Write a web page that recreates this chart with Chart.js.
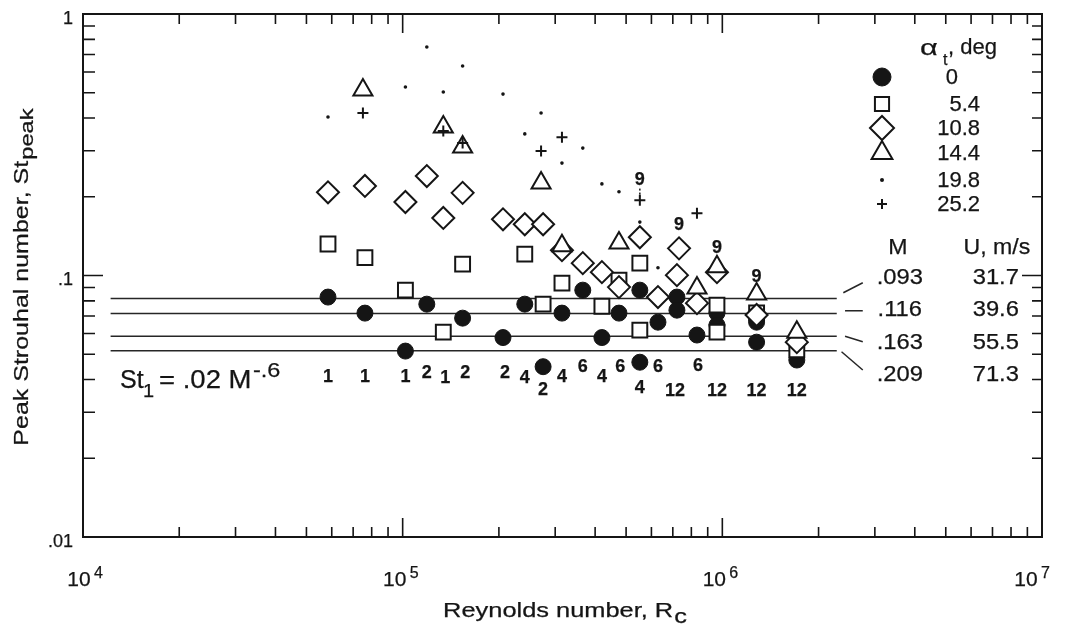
<!DOCTYPE html>
<html>
<head>
<meta charset="utf-8">
<script src="https://cdn.jsdelivr.net/npm/chart.js@4/dist/chart.umd.min.js"></script>
<style>
  html, body { margin: 0; padding: 0; background: #fff; }
  #wrap { width: 1088px; height: 627px; }
</style>
</head>
<body>
<div id="wrap"><canvas id="strouhal-plot"></canvas></div>
<script>
// Values: Reynolds number Rc (x) and peak Strouhal number (y)
const re0 = [5.84e4, 7.62e4, 1.02e5, 1.19e5, 1.54e5, 2.06e5, 2.41e5, 2.75e5, 3.15e5, 3.66e5, 4.20e5, 4.75e5,
             5.52e5, 5.52e5, 6.29e5, 7.21e5, 7.21e5, 8.33e5, 9.62e5, 9.62e5, 1.28e6, 1.28e6, 1.71e6];
const st0 = [0.0827, 0.0718, 0.0514, 0.0777, 0.0687, 0.0579, 0.0777, 0.0448, 0.0718, 0.0879, 0.0579, 0.0718,
             0.0879, 0.0466, 0.0663, 0.0827, 0.0737, 0.0592, 0.0718, 0.0646, 0.0663, 0.0556, 0.0475];

const re5 = [5.84e4, 7.62e4, 1.02e5, 1.34e5, 1.54e5, 2.41e5, 2.75e5, 3.15e5, 4.20e5, 4.75e5, 5.52e5, 5.52e5,
             9.62e5, 9.62e5, 1.28e6, 1.71e6];
const st5 = [0.132, 0.117, 0.0879, 0.0607, 0.1105, 0.1207, 0.0777, 0.0935, 0.0763, 0.096, 0.1115, 0.0618,
             0.077, 0.0607, 0.072, 0.052];

const re10 = [5.84e4, 7.62e4, 1.02e5, 1.19e5, 1.34e5, 1.54e5, 2.06e5, 2.41e5, 2.75e5, 3.15e5, 3.66e5, 4.20e5,
              4.75e5, 5.52e5, 6.29e5, 7.32e5, 7.21e5, 8.33e5, 9.62e5, 1.28e6, 1.71e6];
const st10 = [0.208, 0.22, 0.191, 0.24, 0.166, 0.207, 0.164, 0.157, 0.157, 0.125, 0.1115, 0.103,
              0.0903, 0.14, 0.0827, 0.127, 0.1003, 0.0784, 0.103, 0.0706, 0.0556];

const re14 = [7.51e4, 1.34e5, 1.54e5, 2.71e5, 3.15e5, 4.75e5, 8.33e5, 9.62e5, 1.28e6, 1.71e6];
const st14 = [0.512, 0.37, 0.31, 0.226, 0.13, 0.133, 0.0895, 0.108, 0.0849, 0.0607];

const re19 = [5.84e4, 1.02e5, 1.19e5, 1.34e5, 1.54e5, 2.06e5, 2.41e5, 2.71e5, 3.15e5, 3.66e5, 4.20e5, 4.75e5, 5.52e5, 6.29e5];
const st19 = [0.404, 0.526, 0.748, 0.503, 0.633, 0.494, 0.348, 0.418, 0.269, 0.307, 0.224, 0.209, 0.16, 0.107];

const re25 = [7.51e4, 1.34e5, 1.54e5, 2.71e5, 3.15e5, 5.52e5, 8.33e5];
const st25 = [0.418, 0.357, 0.321, 0.299, 0.338, 0.194, 0.173];

// St1 = .02 M^-.6 reference lines, one per Mach number
const machLabels = ['.093', '.116', '.163', '.209'];
const speedLabels = ['31.7', '39.6', '55.5', '71.3'];
const lineSt = [0.0817, 0.0716, 0.0586, 0.0515];
const lineRe = [1.22e4, 2.28e6];
const leaderRe = [[2.39e6, 2.75e6], [2.42e6, 2.75e6], [2.42e6, 2.75e6], [2.36e6, 2.75e6]];
const leaderSt = [[0.0859, 0.0938], [0.0733, 0.0733], [0.0586, 0.0558], [0.0511, 0.0435]];
const tableSt = [0.0982, 0.0737, 0.0551, 0.0416];
const tableHeadSt = 0.1272;
const tableRe = [3.59e6, 7.17e6];

// bold counts printed under / above the point columns
const countLabels = ['1', '1', '1', '2', '1', '2', '2', '4', '2', '4', '6', '4', '6', '4', '6', '12', '6', '12', '12', '12'];
const countRe = [5.84e4, 7.62e4, 1.02e5, 1.19e5, 1.36e5, 1.57e5, 2.09e5, 2.41e5, 2.75e5, 3.15e5, 3.66e5, 4.20e5,
                 4.79e5, 5.52e5, 6.29e5, 7.11e5, 8.39e5, 9.62e5, 1.28e6, 1.71e6];
const countSt = [0.0409, 0.0409, 0.0409, 0.0423, 0.0405, 0.0423, 0.0423, 0.0405, 0.0364, 0.0409, 0.0446, 0.0409,
                 0.0446, 0.0371, 0.0446, 0.036, 0.0449, 0.036, 0.036, 0.036];
const nineRe = [5.52e5, 7.32e5, 9.62e5, 1.28e6];
const nineSt = [0.2317, 0.156, 0.1273, 0.0986];
const dotLineRe = 5.52e5;
const dotLineSt = [0.215, 0.2];

const alphaLabels = ['0', '5.4', '10.8', '14.4', '19.8', '25.2'];
const yTickLabels = ['.01', '.1', '1'];

const ink = '#151515';
const FONT = '"Liberation Sans", Arial, Helvetica, sans-serif';

function pts(xs, ys) { return xs.map((x, i) => ({ x: x, y: ys[i] })); }

const markers = [
    { pointStyle: 'circle', pointRadius: 8, backgroundColor: ink, borderWidth: 1, order: 4 },
    { pointStyle: 'rect', pointRadius: 10.5, backgroundColor: '#fff', borderWidth: 2, order: 3 },
    { pointStyle: 'rectRot', pointRadius: 11, backgroundColor: '#fff', borderWidth: 2, order: 2 },
    { pointStyle: 'triangle', pointRadius: 11, backgroundColor: '#fff', borderWidth: 2, order: 1 },
    { pointStyle: 'circle', pointRadius: 1.8, backgroundColor: ink, borderWidth: 0, order: 0 },
    { pointStyle: 'cross', pointRadius: 5.5, backgroundColor: ink, borderWidth: 2, order: 0 }
];
const seriesRe = [re0, re5, re10, re14, re19, re25];
const seriesSt = [st0, st5, st10, st14, st19, st25];

const datasets = markers.map((m, i) => Object.assign({
    label: alphaLabels[i],
    data: pts(seriesRe[i], seriesSt[i]),
    borderColor: ink
}, m));

lineSt.forEach(v => datasets.push({
    data: pts(lineRe, [v, v]), showLine: true, pointRadius: 0,
    borderColor: '#262626', borderWidth: 1.5, order: 5
}));
leaderRe.forEach((xs, i) => datasets.push({
    data: pts(xs, leaderSt[i]), showLine: true, pointRadius: 0,
    borderColor: '#262626', borderWidth: 1.5, order: 5
}));
datasets.push({
    data: pts([dotLineRe, dotLineRe], dotLineSt), showLine: true, pointRadius: 0,
    borderColor: ink, borderWidth: 1.5, borderDash: [2, 2], order: 5
});

// draw a piece of text, optionally stretched sideways like the original lettering
function put(ctx, s, x, y, size, o) {
    o = o || {};
    ctx.save();
    ctx.font = (o.bold ? 'bold ' : '') + size + 'px ' + FONT;
    ctx.textAlign = o.align || 'center';
    ctx.textBaseline = o.base || 'middle';
    ctx.translate(x, y);
    if (o.rot) ctx.rotate(o.rot);
    ctx.scale(o.sx || 1, 1);
    ctx.fillText(s, 0, 0);
    // the scanned original has slightly heavier strokes
    ctx.lineWidth = 0.25;
    ctx.strokeStyle = ink;
    ctx.strokeText(s, 0, 0);
    const w = ctx.measureText(s).width * (o.sx || 1);
    ctx.restore();
    return w;
}
function textWidth(ctx, s, size, sx) {
    ctx.save();
    ctx.font = size + 'px ' + FONT;
    const w = ctx.measureText(s).width * sx;
    ctx.restore();
    return w;
}

const figureText = {
    id: 'figureText',
    afterDraw(chart) {
        const ctx = chart.ctx, a = chart.chartArea;
        const xs = chart.scales.x, ys = chart.scales.y;
        ctx.save();
        ctx.fillStyle = ink;
        ctx.strokeStyle = ink;

        // frame and inward ticks on all four sides
        ctx.lineWidth = 2;
        ctx.strokeRect(a.left, a.top, a.right - a.left, a.bottom - a.top);
        ctx.lineWidth = 1.6;
        ctx.beginPath();
        for (let k = 4; k <= 6; k++) {
            for (let m = 1; m <= 9; m++) {
                if (k === 4 && m === 1) continue;
                const px = xs.getPixelForValue(m * Math.pow(10, k));
                const len = m === 1 ? 19 : 10;
                ctx.moveTo(px, a.bottom); ctx.lineTo(px, a.bottom - len);
                ctx.moveTo(px, a.top); ctx.lineTo(px, a.top + len);
            }
        }
        for (let k = -2; k <= -1; k++) {
            for (let m = 1; m <= 9; m++) {
                if (k === -2 && m === 1) continue;
                const py = ys.getPixelForValue(m * Math.pow(10, k));
                ctx.moveTo(a.left, py); ctx.lineTo(a.left + (m === 1 ? 20 : 12), py);
                ctx.moveTo(a.right, py); ctx.lineTo(a.right - (m === 1 ? 20 : 10), py);
            }
        }
        ctx.stroke();

        // x tick labels 10^4 .. 10^7
        [4, 5, 6, 7].forEach(k => {
            const px = xs.getPixelForValue(Math.pow(10, k));
            const shift = k === 4 ? 4 : (k === 7 ? -8 : 0);
            put(ctx, '10', px - 8 + shift, a.bottom + 49, 21, { base: 'alphabetic' });
            put(ctx, String(k), px + 7 + shift, a.bottom + 41, 16, { base: 'alphabetic', align: 'left' });
        });
        // y tick labels
        yTickLabels.forEach((t, i) => {
            const py = ys.getPixelForValue(Math.pow(10, i - 2));
            put(ctx, t, a.left - 10, py + 5, 18, { align: 'right' });
        });

        // axis titles
        const tSize = 20, tsx = 1.27;
        const xMain = 'Reynolds number, R';
        const xw = textWidth(ctx, xMain, tSize, tsx) + textWidth(ctx, 'c', tSize, tsx);
        const xStart = (a.left + a.right) / 2 + 2 - xw / 2;
        const w1 = put(ctx, xMain, xStart, a.bottom + 80, tSize, { base: 'alphabetic', align: 'left', sx: tsx });
        put(ctx, 'c', xStart + w1 + 1, a.bottom + 86, tSize, { base: 'alphabetic', align: 'left', sx: tsx });

        const yMain = 'Peak Strouhal number, St';
        const ysx = 1.25;
        const yw = textWidth(ctx, yMain, tSize, ysx) + textWidth(ctx, 'peak', tSize * 0.95, ysx);
        ctx.save();
        ctx.translate(28, (a.top + a.bottom) / 2 + 2);
        ctx.rotate(-Math.PI / 2);
        const w2 = put(ctx, yMain, -yw / 2, 0, tSize, { base: 'alphabetic', align: 'left', sx: ysx });
        put(ctx, 'peak', -yw / 2 + w2 + 1, 5, tSize * 0.95, { base: 'alphabetic', align: 'left', sx: ysx });
        ctx.restore();

        // counts
        countLabels.forEach((t, i) => {
            put(ctx, t, xs.getPixelForValue(countRe[i]), ys.getPixelForValue(countSt[i]), 18, { bold: true });
        });
        nineRe.forEach((x, i) => {
            put(ctx, '9', xs.getPixelForValue(x), ys.getPixelForValue(nineSt[i]), 18, { bold: true });
        });

        // St1 = .02 M^-.6
        const eqX = a.left + 37, eqY = a.top + 374;
        put(ctx, 'St', eqX, eqY, 25, { base: 'alphabetic', align: 'left', sx: 1.0 });
        put(ctx, '1', eqX + 23, eqY + 9, 19, { base: 'alphabetic', align: 'left', sx: 1.05 });
        put(ctx, '= .02 M', eqX + 39, eqY, 25, { base: 'alphabetic', align: 'left', sx: 1.1 });
        put(ctx, '-.6', eqX + 133, eqY - 11, 21, { base: 'alphabetic', align: 'left', sx: 1.12 });

        // M / U table
        const mx = xs.getPixelForValue(tableRe[0]), ux = xs.getPixelForValue(tableRe[1]);
        const hy = ys.getPixelForValue(tableHeadSt);
        put(ctx, 'M', mx - 2, hy, 22, { sx: 1.05 });
        put(ctx, 'U, m/s', ux + 1, hy, 22, { sx: 1.05 });
        machLabels.forEach((t, i) => {
            const py = ys.getPixelForValue(tableSt[i]);
            put(ctx, t, mx, py, 22, { sx: 1.08 });
            put(ctx, speedLabels[i], ux, py, 22, { sx: 1.08 });
        });

        // legend
        const lx = a.right - 160, lt = a.right - 62;
        const rows = [63, 90, 114, 139, 166, 190];
        const legendRadius = [9, 10, 12, 12, 2, 5];
        put(ctx, '\u03b1', a.right - 122, a.top + 35, 22, { align: 'left', sx: 1.4 });
        put(ctx, 't', a.right - 99, a.top + 47, 16, { align: 'left' });
        put(ctx, ', deg', a.right - 94, a.top + 34, 22, { align: 'left' });
        rows.forEach((dy, i) => {
            const py = a.top + dy;
            const m = markers[i];
            ctx.save();
            ctx.lineWidth = m.borderWidth;
            ctx.fillStyle = m.backgroundColor;
            ctx.strokeStyle = ink;
            if (Chart.helpers && Chart.helpers.drawPoint) {
                Chart.helpers.drawPoint(ctx, {
                    pointStyle: m.pointStyle, rotation: 0,
                    radius: legendRadius[i], borderWidth: m.borderWidth
                }, lx, py);
            }
            ctx.restore();
            if (i === 0) put(ctx, alphaLabels[i], a.right - 84, py + 1, 22, { align: 'right' });
            else put(ctx, alphaLabels[i], lt, py + 1, 22, { align: 'right' });
        });

        ctx.restore();
    }
};

new Chart(document.getElementById('strouhal-plot'), {
    type: 'scatter',
    data: { datasets: datasets },
    options: {
        responsive: true,
        maintainAspectRatio: false,
        animation: false,
        events: [],
        layout: { padding: { top: 14, right: 46, left: 0, bottom: 0 } },
        plugins: {
            legend: { display: false },
            tooltip: { enabled: false }
        },
        scales: {
            x: {
                type: 'logarithmic', min: 1e4, max: 1e7,
                grid: { display: false }, border: { display: false },
                ticks: { display: false },
                afterFit(s) { s.height = 90; }
            },
            y: {
                type: 'logarithmic', min: 0.01, max: 1,
                grid: { display: false }, border: { display: false },
                ticks: { display: false },
                afterFit(s) { s.width = 83; }
            }
        }
    },
    plugins: [figureText]
});
</script>
</body>
</html>
